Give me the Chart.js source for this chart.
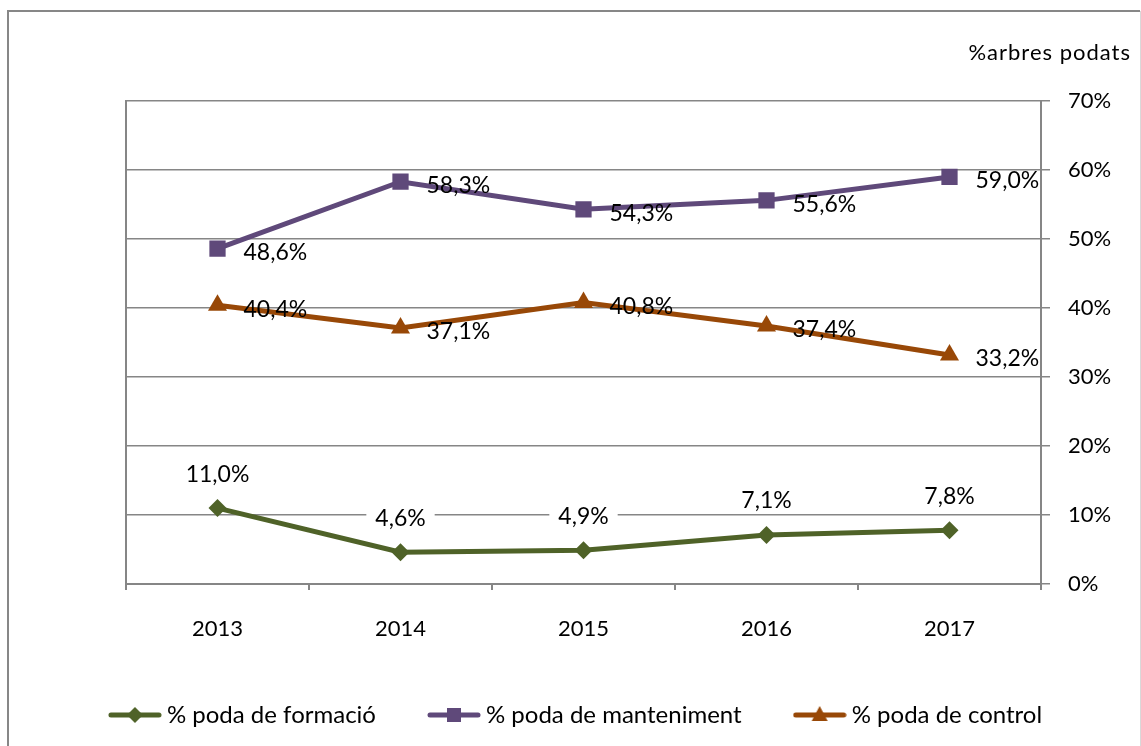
<!DOCTYPE html>
<html>
<head>
<meta charset="utf-8">
<script src="https://cdn.jsdelivr.net/npm/chart.js@4.4.1/dist/chart.umd.min.js"></script>
<style>
  html, body { margin: 0; padding: 0; background: #fff; }
  #wrap { position: relative; width: 1141px; height: 746px; }
  canvas { display: block; }
</style>
</head>
<body>
<div id="wrap"><canvas id="c" width="1141" height="746"></canvas></div>
<script>
// ---- data ----
const categories = ['2013', '2014', '2015', '2016', '2017'];
const formacio = [11.0, 4.6, 4.9, 7.1, 7.8];
const manteniment = [48.6, 58.3, 54.3, 55.6, 59.0];
const control = [40.4, 37.1, 40.8, 37.4, 33.2];
const seriesNames = ['% poda de formació', '% poda de manteniment', '% poda de control'];
const yTicks = [0, 10, 20, 30, 40, 50, 60, 70];
const axisTitle = '%arbres podats';

// ---- styles ----
const FONT = 'Lato, "Open Sans", sans-serif';
const FS = 22;
const LFS = 24;
const DFS = 23;
const GREEN = '#4F6228', PURPLE = '#5F497A', ORANGE = '#984807';
const GRID = '#868686';

function fmt(v) { return v.toFixed(1).replace('.', ',') + '%'; }

function legendImage(color, style) {
  const c = document.createElement('canvas');
  c.width = 54; c.height = 22;
  const g = c.getContext('2d');
  g.strokeStyle = color; g.lineWidth = 5; g.lineCap = 'round';
  g.beginPath(); g.moveTo(3, 11); g.lineTo(51, 11); g.stroke();
  g.fillStyle = color;
  g.beginPath();
  if (style === 'diamond') {
    g.moveTo(27, 3); g.lineTo(35, 11); g.lineTo(27, 19); g.lineTo(19, 11);
  } else if (style === 'square') {
    g.rect(20, 4, 14, 14);
  } else {
    g.moveTo(27, 2); g.lineTo(35, 17); g.lineTo(19, 17);
  }
  g.closePath(); g.fill();
  return c;
}

const labelCfg = [
  { pos: 'top', bg: true },
  { pos: 'right', bg: false },
  { pos: 'right', bg: false }
];

const bgPlugin = {
  id: 'bgBorder',
  beforeDraw(chart) {
    const ctx = chart.ctx;
    ctx.save();
    ctx.fillStyle = '#fff';
    ctx.fillRect(0, 0, chart.width, chart.height);
    ctx.strokeStyle = '#878787'; ctx.lineWidth = 2;
    ctx.beginPath();
    ctx.moveTo(8, 760); ctx.lineTo(8, 11); ctx.lineTo(1140, 11);
    ctx.stroke();
    ctx.strokeStyle = '#d9d9d9'; ctx.lineWidth = 1;
    ctx.beginPath(); ctx.moveTo(1140.5, 11); ctx.lineTo(1140.5, 760); ctx.stroke();
    ctx.restore();
  },
  beforeDatasetsDraw(chart) {
    const ctx = chart.ctx, a = chart.chartArea;
    ctx.save();
    ctx.strokeStyle = GRID; ctx.lineWidth = 2;
    ctx.beginPath(); ctx.moveTo(a.left, a.top - 1); ctx.lineTo(a.left, a.bottom); ctx.stroke();
    ctx.restore();
  },
  afterDraw(chart) {
    const ctx = chart.ctx;
    ctx.save();
    ctx.font = FS + 'px ' + FONT;
    ctx.fillStyle = '#000';
    ctx.textAlign = 'right';
    ctx.textBaseline = 'middle';
    try { ctx.letterSpacing = '1px'; } catch (e) {}
    ctx.fillText(axisTitle, 1131, 53);
    ctx.restore();
  }
};

const dataLabelPlugin = {
  id: 'dataLabels',
  afterDatasetsDraw(chart) {
    const ctx = chart.ctx;
    ctx.save();
    ctx.font = DFS + 'px ' + FONT;
    ctx.textBaseline = 'middle';
    chart.data.datasets.forEach((ds, i) => {
      const meta = chart.getDatasetMeta(i);
      const cfg = labelCfg[i];
      meta.data.forEach((pt, j) => {
        const txt = fmt(ds.data[j]);
        const w = ctx.measureText(txt).width;
        if (cfg.pos === 'top') {
          const y = pt.y - 34;
          if (cfg.bg) {
            ctx.fillStyle = '#fff';
            ctx.fillRect(pt.x - w / 2 - 9, y - 13, w + 18, 26);
          }
          ctx.fillStyle = '#000';
          ctx.textAlign = 'center';
          ctx.fillText(txt, pt.x, y);
        } else {
          ctx.fillStyle = '#000';
          ctx.textAlign = 'left';
          ctx.fillText(txt, pt.x + 26, pt.y + 4);
        }
      });
    });
    ctx.restore();
  }
};

function draw() {
  const legendImgs = [legendImage(GREEN, 'diamond'), legendImage(PURPLE, 'square'), legendImage(ORANGE, 'triangle')];
  new Chart(document.getElementById('c'), {
    type: 'line',
    data: {
      labels: categories,
      datasets: [
        { label: seriesNames[0], data: formacio, borderColor: GREEN, backgroundColor: GREEN,
          borderWidth: 5, pointStyle: 'rectRot', pointRadius: 9, pointBorderWidth: 0 },
        { label: seriesNames[1], data: manteniment, borderColor: PURPLE, backgroundColor: PURPLE,
          borderWidth: 5, pointStyle: 'rect', pointRadius: 11.5, pointBorderWidth: 0 },
        { label: seriesNames[2], data: control, borderColor: ORANGE, backgroundColor: ORANGE,
          borderWidth: 5, pointStyle: 'triangle', pointRadius: 11, pointBorderWidth: 0 }
      ]
    },
    options: {
      responsive: false,
      animation: false,
      devicePixelRatio: 1,
      layout: { padding: { left: 16, right: 0, top: 101, bottom: 9 } },
      plugins: {
        title: { display: false },
        tooltip: { enabled: false },
        legend: {
          position: 'bottom',
          labels: {
            usePointStyle: true,
            pointStyleWidth: 40,
            boxHeight: 22,
            padding: 58,
            color: '#000',
            font: { family: FONT, size: LFS },
            generateLabels: (chart) => chart.data.datasets.map((ds, i) => ({
              text: ds.label, pointStyle: legendImgs[i], datasetIndex: i,
              fillStyle: ds.borderColor, strokeStyle: ds.borderColor, lineWidth: 0, hidden: false, fontColor: '#000'
            }))
          }
        }
      },
      scales: {
        x: {
          offset: true,
          grid: { offset: true, drawOnChartArea: false, drawTicks: true, tickLength: 6, color: GRID, lineWidth: 2 },
          border: { display: true, color: GRID, width: 2 },
          ticks: { color: '#000', padding: 26, font: { family: FONT, size: FS }, maxRotation: 0 },
          afterFit: (s) => { s.height = 61; }
        },
        y: {
          position: 'right',
          min: yTicks[0],
          max: yTicks[yTicks.length - 1],
          afterBuildTicks: (s) => { s.ticks = yTicks.map(v => ({ value: v })); },
          grid: { color: GRID, lineWidth: 1.5, tickLength: 9, drawTicks: true },
          border: { display: true, color: GRID, width: 2 },
          ticks: { color: '#000', padding: 18, font: { family: FONT, size: FS }, callback: (v) => v + '%' },
          afterFit: (s) => { s.width = 100; }
        },
        yLeftSpace: {
          type: 'linear',
          position: 'left',
          display: true,
          grid: { display: false, drawTicks: false },
          border: { display: false },
          ticks: { display: false },
          afterFit: (s) => { s.width = 110; }
        }
      }
    },
    plugins: [bgPlugin, dataLabelPlugin]
  });
}

if (document.fonts && document.fonts.load) {
  Promise.all([document.fonts.load(FS + 'px Lato'), document.fonts.load(FS + 'px "Open Sans"')]).then(draw, draw);
} else { draw(); }
</script>
</body>
</html>
